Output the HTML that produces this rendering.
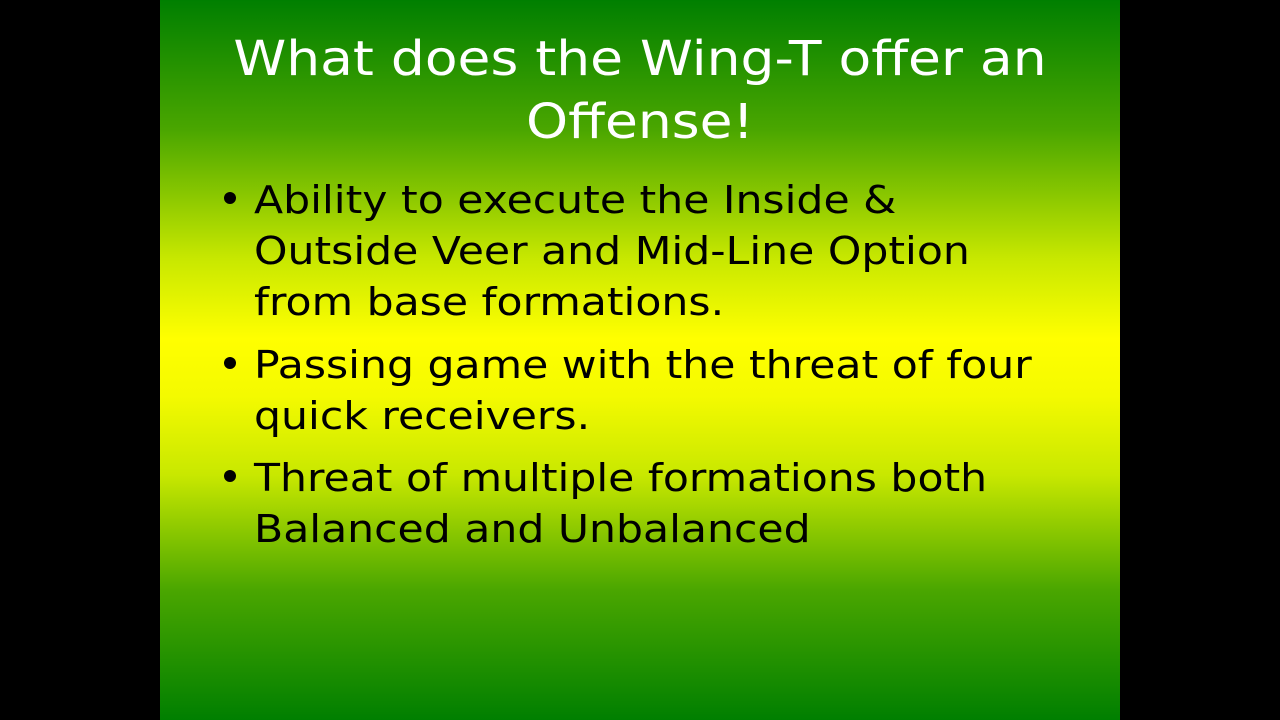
<!DOCTYPE html>
<html><head><meta charset="utf-8"><style>
html,body{margin:0;padding:0;width:1280px;height:720px;background:#000;overflow:hidden}
#slide{position:absolute;left:160px;top:0;width:960px;height:720px;
background:linear-gradient(to bottom,#007f00 0%,#4aa600 18%,#c8e800 36%,#ffff00 47%,#f4fa00 55%,#c8e800 66%,#4aa600 82%,#007f00 100%);
font-family:"DejaVu Sans","Liberation Sans",sans-serif}
.t{position:absolute;left:0;width:960px;text-align:center;color:#fff;font-size:48px;line-height:63px;white-space:nowrap;transform:scaleX(1.114);transform-origin:480px 0}
.l{position:absolute;left:94px;color:#000;font-size:38px;line-height:51px;white-space:nowrap;transform:scaleX(1.12);transform-origin:0 0}
.b{position:absolute;left:64px;width:12px;height:12px;border-radius:50%;background:#000}
</style></head><body>
<div id="slide">
<div class="t" style="top:28px">What does the Wing-T offer an</div>
<div class="t" style="top:91px">Offense!</div>
<div class="b" style="top:192px"></div>
<div class="l" style="top:175px">Ability to execute the Inside &amp;</div>
<div class="l" style="top:226px">Outside Veer and Mid-Line Option</div>
<div class="l" style="top:277px">from base formations.</div>
<div class="b" style="top:357px"></div>
<div class="l" style="top:340px">Passing game with the threat of four</div>
<div class="l" style="top:391px">quick receivers.</div>
<div class="b" style="top:470px"></div>
<div class="l" style="top:453px">Threat of multiple formations both</div>
<div class="l" style="top:504px">Balanced and Unbalanced</div>
</div>
</body></html>
